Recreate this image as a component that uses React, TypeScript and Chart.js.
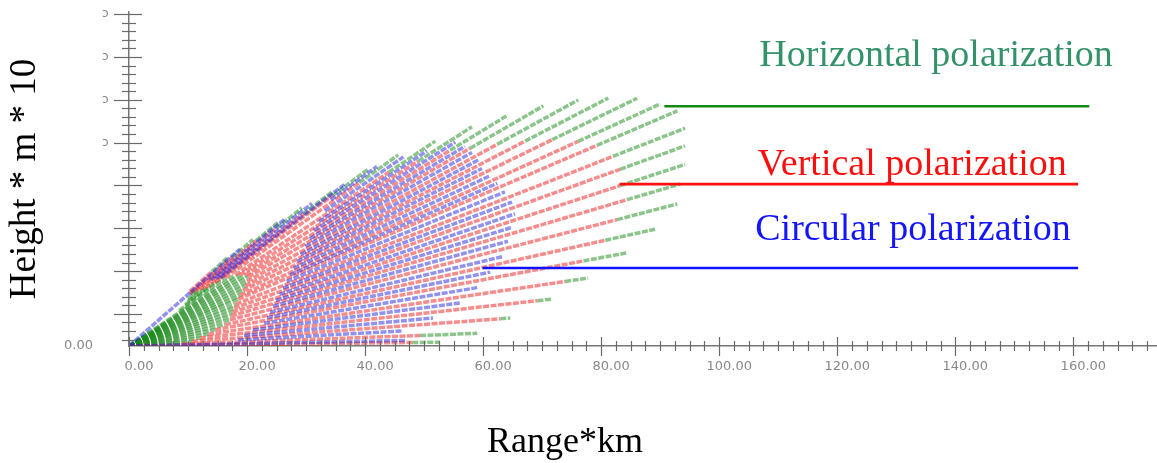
import React, { useEffect, useRef } from "react";
import { Chart, registerables } from "chart.js";
Chart.register(...registerables);

// ---- data ----
// Shared ray elevations (height units per km) for horizontal / vertical polarization rays
const raySlopes = [12.39, 11.84, 11.43, 11.01, 10.46, 10.19, 9.78, 9.22, 8.81, 8.4, 7.99, 7.55, 7.13, 6.72, 6.28, 5.91, 5.4, 4.96, 4.5, 4.05, 3.57, 3.06, 2.58, 2.04, 1.53, 1.01, 0.5, 0.17];
// Horizontal polarization (green): start / end range of each ray, km
const horizStartKm = [11, 11, 10.5, 10, 10, 9.5, 8.5, 0, 0, 0, 0, 0, 0, 0, 0, 0, 0, 0, 0, 0, 0, 0, 0, 0, 0, 0, 0, 0];
const horizEndKm = [16.6, 21.0, 25.3, 29.3, 34.6, 40.5, 45.6, 51.9, 58.1, 64.2, 70.2, 76.1, 81.2, 86.1, 90.0, 92.9, 94.2, 94.2, 94.2, 93.4, 92.9, 89.2, 84.4, 77.8, 71.7, 64.6, 59.0, 52.7];
// Vertical polarization (red)
const vertStartKm = [10.3, 10.3, 11.2, 12.0, 12.9, 14.6, 16.3, 18.0, 18.8, 19.7, 20.2, 20.0, 19.7, 19.3, 18.8, 18.5, 18.1, 17.8, 17.5, 17.3, 17.1, 16.3, 14.6, 13.4, 12.0, 10.7, 9.0, 0];
const vertEndKm = [14.0, 17.5, 21.5, 25.0, 29.5, 34.5, 39.0, 44.0, 49.0, 54.4, 57.8, 62.4, 67.1, 71.7, 76.1, 79.3, 82.0, 83.2, 83.2, 84.4, 82.7, 80.7, 77.0, 73.9, 69.2, 62.9, 49.3, 48.0];
// Circular polarization (blue): own ray elevations and ranges
const circSlopes = [12.05, 11.22, 10.74, 10.33, 9.98, 9.5, 9.02, 8.61, 8.19, 7.78, 7.34, 6.93, 6.5, 6.09, 5.65, 5.18, 4.72, 4.27, 3.81, 3.3, 2.82, 2.31, 1.79, 1.27, 0.76, 0.28];
const circStartKm = [0, 13.7, 14.6, 15.4, 34.2, 33.2, 32.2, 31.3, 30.6, 29.9, 29.1, 28.5, 27.9, 27.3, 26.7, 26.1, 25.5, 24.9, 24.4, 23.9, 23.4, 22.9, 21.0, 19.5, 18.5, 0];
const circEndKm = [18.8, 26.5, 31.0, 36.5, 42.0, 46.5, 50.5, 55.3, 56.9, 58.1, 59.2, 59.8, 61.2, 62.4, 63.7, 64.9, 65.4, 64.9, 64.2, 63.4, 61.2, 59.0, 56.1, 51.5, 46.4, 46.8];

// Legend lines and labels
const legendNames = ["Horizontal polarization", "Vertical polarization", "Circular polarization"];
const legendLineStartKm = [90.7, 83.1, 59.9];
const legendLineEndKm = [162.7, 160.8, 160.8];
const legendLineHeight = [560, 378, 182];
const legendTextKm = [106.8, 106.5, 106.1];
const legendTextHeight = [653, 399, 247];

const xTickValues = [0, 20, 40, 60, 80, 100, 120, 140, 160];
const yMajorTicks = [75, 175, 275, 375, 475, 575, 675, 775];
const yClippedLabelTicks = [775, 675, 575, 475];

// ---- styles ----
const GREEN_RAY = "rgba(25,140,25,0.5)";
const RED_RAY = "rgba(240,25,25,0.5)";
const BLUE_RAY = "rgba(35,35,225,0.5)";
const RAY_WIDTH = 3.5;
const RAY_DASH = [6, 1.5];
const LEGEND_LINE_COLORS = ["#138a13", "#ff1010", "#1010ff"];
const LEGEND_TEXT_COLORS = ["#33926a", "#ff0d0d", "#1414ff"];

function ray(slope: number, a: number, b: number) {
  return [
    { x: a, y: slope * a },
    { x: b, y: slope * b },
  ];
}

const decorPlugin = {
  id: "decor",
  afterDraw(chart: any) {
    const { ctx, scales } = chart;
    const x = scales.x;
    const y = scales.y;
    ctx.save();
    ctx.strokeStyle = "#6a6a6a";
    ctx.lineWidth = 1.2;
    const y0 = y.getPixelForValue(0);
    for (let v = 0; v <= 174; v += 2.5) {
      const px = Math.round(x.getPixelForValue(v)) + 0.5;
      const major = v % 20 === 0;
      ctx.beginPath();
      ctx.moveTo(px, y0 - (major ? 9 : 5));
      ctx.lineTo(px, y0 + (major ? 10 : 5));
      ctx.stroke();
    }
    const x0 = x.getPixelForValue(0);
    for (let v = 15; v <= 780; v += 20) {
      const py = Math.round(y.getPixelForValue(v)) + 0.5;
      const major = yMajorTicks.includes(v);
      ctx.beginPath();
      ctx.moveTo(x0 - (major ? 15 : 7), py);
      ctx.lineTo(x0 + (major ? 13 : 7), py);
      ctx.stroke();
    }
    // clipped y labels
    ctx.fillStyle = "#888";
    ctx.font = "12px 'DejaVu Sans'";
    ctx.textAlign = "left";
    ctx.textBaseline = "middle";
    yClippedLabelTicks.forEach((v) => {
      ctx.fillText("ↄ", 102, y.getPixelForValue(v));
    });
    // legend texts
    ctx.font = "38px 'Liberation Serif'";
    ctx.textBaseline = "alphabetic";
    legendNames.forEach((name, i) => {
      ctx.fillStyle = LEGEND_TEXT_COLORS[i];
      ctx.fillText(name, x.getPixelForValue(legendTextKm[i]), y.getPixelForValue(legendTextHeight[i]));
    });
    // x axis title
    ctx.fillStyle = "#000";
    ctx.font = "36px 'Liberation Serif'";
    ctx.textAlign = "center";
    ctx.fillText("Range*km", 565, 452);
    ctx.restore();
  },
};

export default function App() {
  const ref = useRef<HTMLCanvasElement | null>(null);
  useEffect(() => {
    if (!ref.current) return;
    const datasets: any[] = [];
    const rayStyle = (color: string, order: number) => ({
      borderColor: color,
      borderWidth: RAY_WIDTH,
      borderDash: RAY_DASH,
      order,
    });
    raySlopes.forEach((s, i) => {
      // green where the red segment is not drawn
      if (vertStartKm[i] > horizStartKm[i]) {
        datasets.push({ data: ray(s, horizStartKm[i], vertStartKm[i]), ...rayStyle(GREEN_RAY, 3) });
      }
      datasets.push({ data: ray(s, vertEndKm[i], horizEndKm[i]), ...rayStyle(GREEN_RAY, 3) });
      datasets.push({ data: ray(s, vertStartKm[i], vertEndKm[i]), ...rayStyle(RED_RAY, 2) });
    });
    circSlopes.forEach((s, i) => {
      datasets.push({ data: ray(s, circStartKm[i], circEndKm[i]), ...rayStyle(BLUE_RAY, 1) });
    });
    legendNames.forEach((_, i) => {
      datasets.push({
        data: [
          { x: legendLineStartKm[i], y: legendLineHeight[i] },
          { x: legendLineEndKm[i], y: legendLineHeight[i] },
        ],
        borderColor: LEGEND_LINE_COLORS[i],
        borderWidth: 2.6,
        order: 0,
      });
    });
    datasets.forEach((d) => {
      d.showLine = true;
      d.pointRadius = 0;
      d.fill = false;
      d.tension = 0;
    });
    const chart = new Chart(ref.current, {
      type: "scatter",
      data: { datasets },
      options: {
        animation: false,
        responsive: false,
        devicePixelRatio: 1,
        layout: { padding: { top: 12, right: 1, left: 0, bottom: 0 } },
        plugins: { legend: { display: false }, tooltip: { enabled: false } },
        scales: {
          x: {
            type: "linear",
            min: 0,
            max: 174,
            grid: { display: false, drawTicks: false },
            border: { display: true, color: "#777", width: 1.5 },
            ticks: {
              padding: 13,
              labelOffset: 10,
              color: "#888",
              font: { family: "DejaVu Sans", size: 13 },
              maxRotation: 0,
              autoSkip: false,
              callback: (v: any) => Number(v).toFixed(2),
            },
            afterBuildTicks: (s: any) => {
              s.ticks = xTickValues.map((v) => ({ value: v }));
            },
            afterFit: (s: any) => {
              s.height = 463 - 346;
              s.paddingLeft = 0;
              s.paddingRight = 0;
            },
          },
          y: {
            type: "linear",
            min: 0,
            max: 780,
            grid: { display: false, drawTicks: false },
            border: { display: true, color: "#777", width: 1.5 },
            ticks: {
              padding: 36,
              color: "#888",
              font: { family: "DejaVu Sans", size: 13 },
              callback: (v: any) => (Number(v) === 0 ? "0.00" : ""),
            },
            afterBuildTicks: (s: any) => {
              s.ticks = [{ value: 0 }];
            },
            afterFit: (s: any) => {
              s.width = 129;
              s.paddingTop = 0;
              s.paddingBottom = 0;
            },
            title: {
              display: true,
              text: "Height * m * 10",
              color: "#000",
              font: { family: "Liberation Serif", size: 37 },
              padding: { top: 3, bottom: 0 },
            },
          },
        },
      },
      plugins: [decorPlugin],
    });
    return () => chart.destroy();
  }, []);
  return (
    <div style={{ position: "fixed", left: 0, top: 0, width: 1157, height: 463, background: "#fff" }}>
      <canvas ref={ref} width={1157} height={463} />
    </div>
  );
}
